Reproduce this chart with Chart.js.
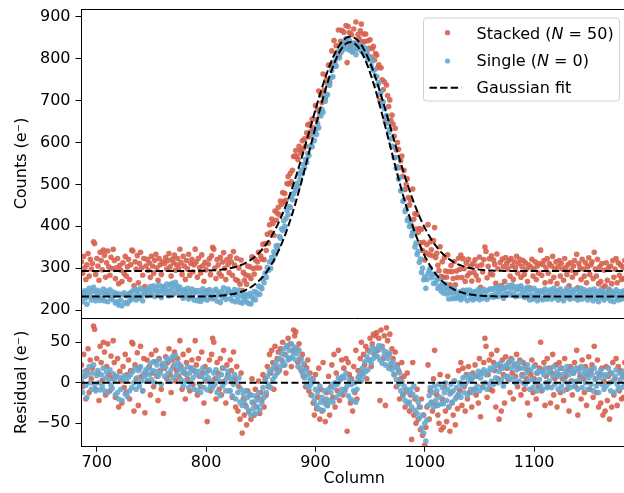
<!DOCTYPE html>
<html>
<head>
<meta charset="utf-8">
<script src="https://cdn.jsdelivr.net/npm/chart.js@4/dist/chart.umd.min.js"></script>
<style>
  html, body { margin: 0; padding: 0; background: #fff; overflow: hidden; }
  #khung { position: relative; width: 631px; height: 493px; }
</style>
</head>
<body>
<div id="khung"><canvas id="bieuDoCot" width="631" height="493"></canvas></div>
<script>
// cot dau tien va cac vach chia doc tu hinh
const firstColumn = 686;
const lastColumn = 1185;
const columnTicks = [700, 800, 900, 1000, 1100];
const countTicks = [200, 300, 400, 500, 600, 700, 800, 900];
const residualTicks = [-50, 0, 50];

// Gaussian fit: [offset, bien do, tam, sigma]
const fitStacked = [293, 560, 932, 37];
const fitSingle = [232, 608, 932, 35.5];

// phan du (residual) tung cot, uoc luong tu hinh, moi hang 15 cot
const stackedResidual = [
  22, -5, 35, 8, -20, 15, 42, -12, 28, 5, 18, 70, 66, -8, 30,
  12, -22, 45, 25, 3, 50, 38, -15, 20, 48, 10, -10, 33, 6, 52,
  25, -18, 8, 30, -30, 14, 2, -25, 20, -6, 35, -12, 10, 28, -20,
  15, 50, 48, -35, 22, 5, 37, -28, 18, 45, 8, -10, 30, -37, 12,
  28, 2, 20, -15, 35, 12, -5, 26, 40, 8, -22, 30, 15, -8, 22,
  -38, 18, 32, 5, 25, 42, 10, -12, 28, 20, 38, 2, 15, 30, 8,
  52, 20, -8, 35, 12, -20, 25, 5, 40, -10, 18, 28, -2, 15, 52,
  22, -15, 30, 8, -5, 38, 12, -25, 20, 2, -48, 15, 28, -10, 35,
  55, 50, 5, -20, 25, 12, -8, 30, -15, 18, 40, 2, -25, 22, 10,
  -10, 28, 15, -18, 38, 5, -30, 20, -35, -5, -45, 12, -62, -20, -40,
  -28, -52, -10, -35, -15, -45, 5, -25, -40, -8, -30, -18, 2, -38, -12,
  -22, 10, -30, 5, -15, 20, -5, 35, 12, 40, 25, -8, 45, 18, 30,
  38, 15, 42, 28, 50, 22, 35, 12, 45, 55, 30, 48, 20, 40, 65,
  58, 63, 42, 25, 48, 30, 15, 35, 8, 22, -5, 18, 28, -10, 12,
  -15, 5, -25, -40, 10, -32, -18, 18, -45, -8, -35, 25, -22, -48, -12,
  -28, 8, -40, -5, 22, -18, 35, -30, 12, -10, 40, -22, 5, 28, -15,
  18, -8, 30, -60, 25, 10, -25, 5, -35, 20, -12, 40, -20, 15, 8,
  30, 50, 12, 35, 22, 45, 5, 40, 28, 55, 20, 48, 60, 35, 58,
  62, 40, 55, -22, 65, 45, 30, 58, -28, 68, 52, 35, 60, 20, 42,
  30, 10, 38, -5, 22, 15, -20, 5, 25, -15, 8, -30, -10, 12, -25,
  -35, -15, -70, 25, -40, -20, -50, -8, -45, -30, -58, -20, -65, -40, -77,
  -55, -30, 22, -45, -10, -25, -35, 5, 40, -28, -15, -40, -50, 10, -58,
  -20, -55, -5, -35, -48, 8, -30, -60, -12, -25, -40, 2, -52, -18, -32,
  15, -10, 25, -28, 18, -5, -35, 10, -20, 20, -12, 5, -30, 12, -8,
  22, -15, 8, -25, 30, -42, 12, -5, 25, 55, 45, -18, 10, 28, -8,
  35, -10, 25, 15, -30, 40, 5, -45, 20, -35, 28, 10, -25, 32, 18,
  5, 25, -12, 30, 12, -20, 22, 8, 35, -5, 18, 28, -15, 10, 25,
  -8, 20, 5, -25, 15, -40, 10, 28, -12, 5, 22, -20, 12, -5, 18,
  50, -10, 15, 25, -28, 8, 30, -5, 18, -25, 12, 35, -15, 5, 22,
  -30, 10, 25, -12, 18, 5, -22, 30, 8, -8, 15, -35, 20, 2, -15,
  12, 25, -5, 40, -40, 18, 8, -20, 28, 5, -12, 20, -28, 10, 32,
  -8, 15, 22, -18, 45, 5, -12, 28, -30, 10, -25, 18, -40, 2, -35,
  20, -22, 8, -45, 12, -30, 25, -15, 5, 30, -28, 20, -10, 15, -20,
  10, -18, 25, 5, -32
];

const singleResidual = [
  2, -12, 8, 14, -3, -18, 10, 20, 0, -8, 12, 22, -2, -10, 9,
  15, 0, -9, 10, -4, 18, -10, 6, 13, -12, 4, 16, -3, -7, 11,
  3, -15, 8, -12, -20, 6, -8, -22, 5, 9, -14, 2, -17, 7, -10,
  10, -6, 14, 0, 18, -8, 6, 15, -4, 20, 2, -10, 12, 8, 16,
  2, 18, 10, 24, 4, 15, 26, 0, 14, 22, 8, 28, 12, -2, 19,
  24, 8, 20, 30, 12, 2, 28, 16, 32, 6, 22, 34, 10, 25, 18,
  22, 4, 14, -4, 16, 2, 10, 20, -6, 12, 0, 18, 6, -8, 14,
  10, -10, 14, -2, -12, 8, 18, -6, 4, 12, -9, 6, 16, -4, 2,
  -6, 12, -2, 16, -12, 8, 2, -16, 10, -4, 18, 0, -10, 6, 14,
  8, -10, 4, -16, -2, 10, -20, 0, -12, 6, -24, -8, -28, -14, -22,
  -10, -30, -18, -36, -14, -40, -24, -32, -16, -38, -22, -30, -12, -34, -20,
  -26, -6, -18, 2, -12, 8, -2, 14, -6, 16, 4, 20, 8, 24, 12,
  14, 30, 20, 36, 26, 42, 22, 34, 46, 28, 40, 30, 48, 32, 38,
  44, 28, 36, 20, 40, 18, 30, 12, 24, 6, 16, -2, 10, -6, 4,
  -2, -16, 4, -22, -8, -28, -12, -32, -4, -24, -18, -34, -10, -26, -20,
  -28, -8, -22, -12, -2, -24, -6, 0, -18, -2, 6, -14, 4, -8, 8,
  6, -10, 12, -4, -16, 4, -20, -2, -22, -10, 0, -24, -8, 6, 2,
  12, 2, 18, 8, 26, 14, 32, 16, 28, 38, 24, 44, 30, 40, 34,
  42, 32, 46, 28, 44, 24, 40, 34, 22, 38, 30, 18, 36, 24, 16,
  26, 10, 20, 4, 18, -2, 12, -10, 2, -16, -4, -22, -8, -26, -12,
  -24, -8, -30, -14, -4, -34, -18, -38, -24, -44, -30, -56, -40, -62, -50,
  -72, -46, -28, -16, -6, -24, -12, -30, -4, -22, -10, -28, -2, -18, -26,
  -6, -26, -12, 0, -22, -8, -30, -14, -2, -24, -10, 2, -20, -6, -16,
  -14, 0, -18, -4, 6, -12, -2, 8, -16, 2, 10, -8, 4, -12, 8,
  -8, 8, -4, 14, -10, 6, 12, -6, 16, 0, 10, -8, 14, -2, 18,
  2, 16, -2, 20, 6, 22, 0, 14, 24, 4, 18, -4, 20, 8, 22,
  8, 26, 4, 18, 28, 6, 22, 0, 16, 24, 2, 18, 26, 8, 0,
  18, -2, 12, 22, 2, -8, 16, 4, -6, 20, 0, 12, -10, 14, 4,
  -4, 14, -8, 10, 18, 0, -6, 12, 2, 16, -6, 8, 20, -2, 10,
  14, -8, 8, 18, -4, 10, -10, 2, 14, 20, -2, 10, -6, 16, 2,
  12, -4, 18, 2, -8, 14, 4, 20, -6, 10, 16, 0, 12, -8, 6,
  16, -2, 10, -10, 18, 4, -4, 12, -12, 6, 16, -2, 10, -8, 8,
  -4, 10, 18, 0, -10, 12, 2, -12, 8, 16, -2, -8, 12, 4, -6,
  8, 14, -2, 10, 2
];

const mauDo = 'rgba(214, 96, 77, 0.9)';
const mauXanh = 'rgba(103, 169, 207, 0.9)';
const phongChu = 'DejaVu Sans';
const coChu = 16;

function gauss(p, x) {
    return p[0] + p[1] * Math.exp(-((x - p[2]) ** 2) / (2 * p[3] * p[3]));
}

const cot = stackedResidual.map((_, i) => firstColumn + i);
const duongFit = (p) => cot.map(c => ({ x: c, y: gauss(p, c) }));
const diemDem = (p, res) => cot.map((c, i) => ({ x: c, y: gauss(p, c) + res[i] }));
const diemDu = (res) => cot.map((c, i) => ({ x: c, y: res[i] }));

// ve khung cho hai o va chu thich
const khungVaChuThich = {
    id: 'khungVaChuThich',
    afterDraw(chart) {
        const ctx = chart.ctx;
        const area = chart.chartArea;
        const giua = Math.round(chart.scales.y.bottom) + 0.5;
        const trai = Math.round(area.left) - 0.5;
        const phai = Math.round(area.right) + 0.5;
        ctx.save();
        ctx.strokeStyle = '#000';
        ctx.lineWidth = 1;
        ctx.strokeRect(trai, Math.round(area.top) + 0.5, phai - trai, Math.round(area.bottom - area.top) - 1);
        ctx.beginPath();
        ctx.moveTo(trai, giua);
        ctx.lineTo(phai, giua);
        ctx.stroke();

        // chu thich
        const w = 196, h = 83;
        const left = area.right - 7.5 - w;
        const top = area.top + 9;
        ctx.beginPath();
        if (ctx.roundRect) ctx.roundRect(left, top, w, h, 3); else ctx.rect(left, top, w, h);
        ctx.fillStyle = 'rgba(255,255,255,0.8)';
        ctx.fill();
        ctx.strokeStyle = '#d0d0d0';
        ctx.stroke();

        const xMarker = left + 24;
        const xText = left + 53;
        const hang = [top + 14.7, top + 43, top + 69.7];
        ctx.fillStyle = mauDo;
        ctx.beginPath(); ctx.arc(xMarker, hang[0], 2.6, 0, Math.PI * 2); ctx.fill();
        ctx.fillStyle = mauXanh;
        ctx.beginPath(); ctx.arc(xMarker, hang[1], 2.6, 0, Math.PI * 2); ctx.fill();
        ctx.strokeStyle = '#000';
        ctx.lineWidth = 2;
        ctx.setLineDash([7.4, 3.2]);
        ctx.beginPath(); ctx.moveTo(left + 6, hang[2]); ctx.lineTo(left + 38, hang[2]); ctx.stroke();
        ctx.setLineDash([]);

        ctx.fillStyle = '#000';
        ctx.textBaseline = 'alphabetic';
        const veNhieuPhan = (phan, x, y) => {
            phan.forEach(([chu, nghieng]) => {
                ctx.font = (nghieng ? 'italic ' : '') + coChu + 'px "' + phongChu + '"';
                ctx.fillText(chu, x, y);
                x += ctx.measureText(chu).width;
            });
        };
        veNhieuPhan([['Stacked (', false], ['N', true], [' = 50)', false]], xText, hang[0] + 5.8);
        veNhieuPhan([['Single (', false], ['N', true], [' = 0)', false]], xText, hang[1] + 5.3);
        veNhieuPhan([['Gaussian fit', false]], xText, hang[2] + 5.3);
        ctx.restore();
    }
};

const tru = (v) => String(v).replace('-', '\u2212');
const chuTruc = { family: phongChu, size: coChu };

new Chart(document.getElementById('bieuDoCot').getContext('2d'), {
    type: 'scatter',
    data: {
        datasets: [
            { label: 'Gaussian fit', data: duongFit(fitStacked), yAxisID: 'y', showLine: true,
              borderColor: '#000', borderWidth: 2, borderDash: [7.4, 3.2], pointRadius: 0, order: 0 },
            { label: 'Gaussian fit 2', data: duongFit(fitSingle), yAxisID: 'y', showLine: true,
              borderColor: '#000', borderWidth: 2, borderDash: [7.4, 3.2], pointRadius: 0, order: 0 },
            { label: 'zero', data: [{ x: firstColumn, y: 0 }, { x: lastColumn, y: 0 }], yAxisID: 'yRes', showLine: true,
              borderColor: '#000', borderWidth: 1.8, borderDash: [7, 3.5], pointRadius: 0, order: 0 },
            { label: 'Single (N = 0)', data: diemDem(fitSingle, singleResidual), yAxisID: 'y',
              backgroundColor: mauXanh, pointRadius: 2.8, pointBorderWidth: 0, order: 1 },
            { label: 'Single residual', data: diemDu(singleResidual), yAxisID: 'yRes',
              backgroundColor: mauXanh, pointRadius: 2.8, pointBorderWidth: 0, order: 1 },
            { label: 'Stacked (N = 50)', data: diemDem(fitStacked, stackedResidual), yAxisID: 'y',
              backgroundColor: mauDo, pointRadius: 2.8, pointBorderWidth: 0, order: 2 },
            { label: 'Stacked residual', data: diemDu(stackedResidual), yAxisID: 'yRes',
              backgroundColor: mauDo, pointRadius: 2.8, pointBorderWidth: 0, order: 2 }
        ]
    },
    options: {
        responsive: false,
        animation: false,
        devicePixelRatio: 1,
        layout: { padding: { top: 9, right: 1.5, left: 0, bottom: 0 } },
        plugins: { legend: { display: false }, tooltip: { enabled: false } },
        scales: {
            x: {
                type: 'linear', position: 'bottom', min: firstColumn, max: lastColumn,
                afterBuildTicks: s => { s.ticks = columnTicks.map(v => ({ value: v })); },
                afterFit: s => { s.height = 46.3; s.paddingLeft = 0; s.paddingRight = 0; },
                grid: { drawOnChartArea: false, drawTicks: true, tickLength: 5, color: '#000', lineWidth: 1 },
                border: { display: false },
                ticks: { color: '#000', font: chuTruc, padding: 2, maxRotation: 0, autoSkip: false, callback: v => String(v) },
                title: { display: true, text: 'Column', color: '#000', font: chuTruc, padding: { top: 0, bottom: 4.4 } }
            },
            y: {
                type: 'linear', position: 'left', stack: 'panels', stackWeight: 2.4, weight: 2,
                min: 181, max: 919,
                afterBuildTicks: s => { s.ticks = countTicks.map(v => ({ value: v })); },
                afterFit: s => { s.width = 81.5; s.paddingTop = 0; s.paddingBottom = 0; },
                grid: { drawOnChartArea: false, drawTicks: true, tickLength: 6, color: '#000', lineWidth: 1 },
                border: { display: false },
                ticks: { color: '#000', font: chuTruc, padding: 5, callback: v => String(v) },
                title: { display: true, text: 'Counts (e\u207B)', color: '#000', font: chuTruc, padding: { top: 12.4, bottom: 0 } }
            },
            yRes: {
                type: 'linear', position: 'left', stack: 'panels', stackWeight: 1, weight: 1,
                min: -79, max: 80,
                afterBuildTicks: s => { s.ticks = residualTicks.map(v => ({ value: v })); },
                afterFit: s => { s.width = 81.5; s.paddingTop = 0; s.paddingBottom = 0; },
                grid: { drawOnChartArea: false, drawTicks: true, tickLength: 6, color: '#000', lineWidth: 1 },
                border: { display: false },
                ticks: { color: '#000', font: chuTruc, padding: 5, callback: v => tru(v) },
                title: { display: true, text: 'Residual (e\u207B)', color: '#000', font: chuTruc, padding: { top: 12.4, bottom: 0 } }
            }
        }
    },
    plugins: [khungVaChuThich]
});
</script>
</body>
</html>
